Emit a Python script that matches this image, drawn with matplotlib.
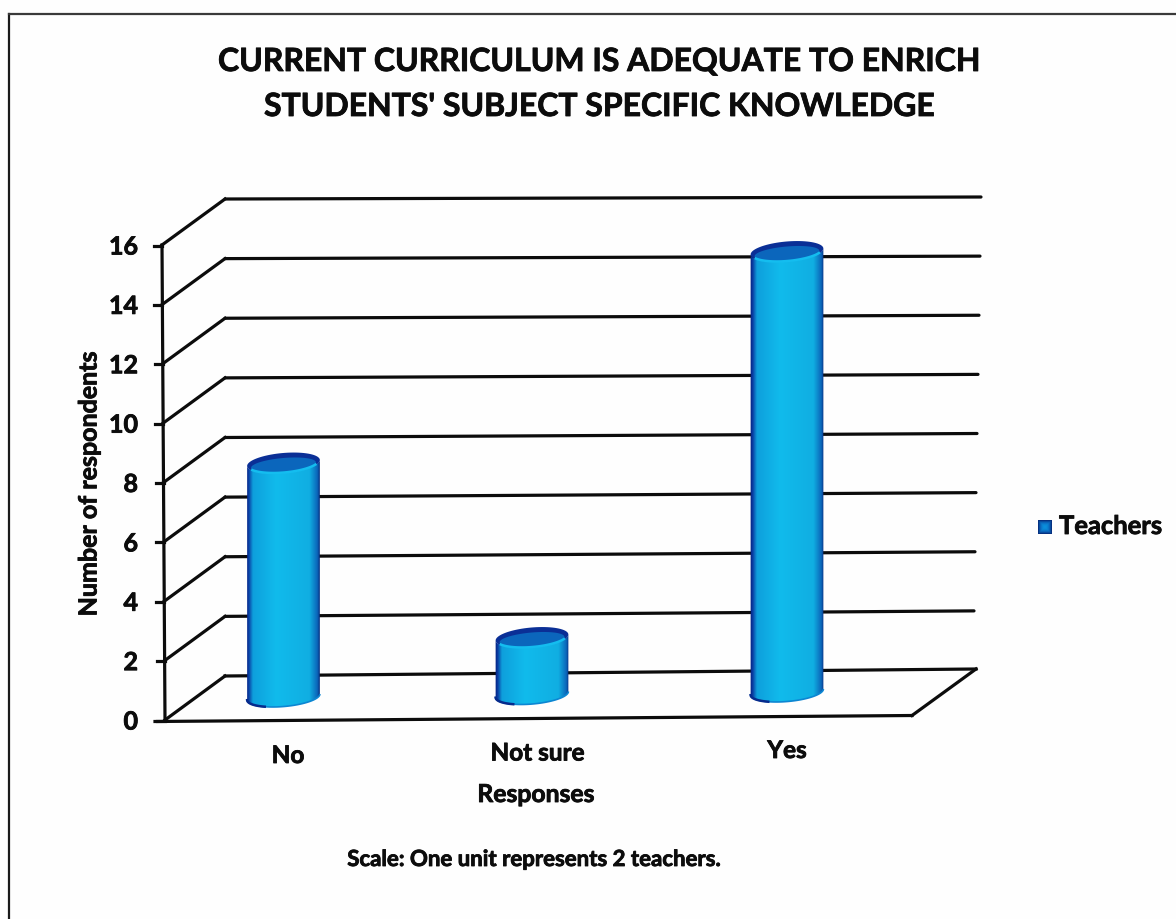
"""3D style cylinder chart, drawn on one axes that uses the picture's pixels as units."""
import matplotlib
matplotlib.use("Agg")
import matplotlib.patheffects as pe
import matplotlib.pyplot as plt
import numpy as np
from matplotlib.colors import LinearSegmentedColormap
from matplotlib.patches import PathPatch, Polygon
from matplotlib.path import Path

plt.rcParams["font.family"] = ["Lato", "DejaVu Sans"]
plt.rcParams["font.weight"] = "bold"

title_lines = ["CURRENT CURRICULUM IS ADEQUATE TO ENRICH", "STUDENTS' SUBJECT SPECIFIC KNOWLEDGE"]
categories = ["No", "Not sure", "Yes"]
teachers = [8, 2, 15]
y_ticks = [0, 2, 4, 6, 8, 10, 12, 14, 16]
series_name = "Teachers"
x_title = "Responses"
y_title = "Number of respondents"
note = "Scale: One unit represents 2 teachers."

W, H = 1176, 919
YMAX = 16
INK = "#0c0c0c"
LW = 2.3
HEAVY = [pe.withStroke(linewidth=0.6, foreground=INK)]
body_cmap = LinearSegmentedColormap.from_list(
    "body",
    [(0, "#041f80"), (0.035, "#0a3fa4"), (0.09, "#0e9fdc"), (0.4, "#11bbec"),
     (0.85, "#10aee2"), (0.955, "#0b66ba"), (1, "#041c6c")],
)
swatch_cmap = LinearSegmentedColormap.from_list("swatch", ["#0a8fdc", "#0b62b8", "#06307f"])


def label(ax, x, y, s, size, **kw):
    kw.setdefault("ha", "center")
    ax.text(x, y, s, va="center", fontsize=size, color=INK, path_effects=HEAVY, **kw)


def front_axis(v):
    t = v / YMAX
    return 165 - 3 * t, 720 - 475 * t


def back_wall(u, v):
    # u runs 0..1 along the wall, the wall is a little out of square
    t = v / YMAX
    left = np.array([225, 676 - 477 * t])
    right = np.array([973 + 8 * t, 670 - 473 * t])
    return left + (right - left) * u


def bar_base(i):
    # spacing widens a touch to the right (perspective)
    return 283.5 + 248.5 * i + 3.25 * i * (i - 1), 697 - 2.5 * i


def ellipse_pts(cx, cy, a, b, t0, t1, n=80, tilt=np.radians(-5)):
    t = np.linspace(t0, t1, n)
    x = cx + a * np.cos(t) * np.cos(tilt) - b * np.sin(t) * np.sin(tilt)
    y = cy + a * np.cos(t) * np.sin(tilt) + b * np.sin(t) * np.cos(tilt)
    return np.column_stack([x, y])


def draw_cylinder(ax, i, value):
    a, b = 36.5, 9.5
    cx, cy0 = bar_base(i)
    cy1 = cy0 - 29.5 * value + 2

    # body: gradient clipped to the outline
    lower = ellipse_pts(cx, cy0, a, b, 0, np.pi)
    upper = ellipse_pts(cx, cy1, a, b, np.pi, 0)
    outline = np.vstack([lower, upper, lower[:1]])
    clip = PathPatch(Path(outline), transform=ax.transData, fc="none", ec="none")
    ax.add_patch(clip)
    grad = np.linspace(0, 1, 128).reshape(1, -1)
    im = ax.imshow(grad, cmap=body_cmap, aspect="auto", zorder=3,
                   extent=[cx - a - 1, cx + a + 1, cy0 + 20, cy1 - 20])
    im.set_clip_path(clip)

    # bottom rim
    ax.plot(*ellipse_pts(cx, cy0, a, b, 0.1, np.pi).T, color="#0c86d2", lw=1.2, zorder=4)
    ax.plot(*ellipse_pts(cx, cy0, a, b, np.pi * 0.68, np.pi).T, color="#062a8c", lw=1.8, zorder=4)

    # top face
    rim = Polygon(ellipse_pts(cx, cy1, a, b + 0.5, 0, 2 * np.pi), fc="#0a2f96", ec="none", zorder=5)
    ax.add_patch(rim)
    inner = Polygon(ellipse_pts(cx, cy1 + 2, a - 4, b - 2.5, 0, 2 * np.pi), fc="#0b66bc", ec="none", zorder=6)
    ax.add_patch(inner)
    ax.plot(*ellipse_pts(cx, cy1, a - 1, b, np.pi * 0.15, np.pi * 0.85).T, color="#14bdef", lw=1.8, zorder=7)


fig = plt.figure(figsize=(W / 100, H / 100), dpi=100, facecolor="#fefefe")
ax = fig.add_axes([0, 0, 1, 1])

# page frame
ax.plot([9, 9], [H, 14], color="#1a1a1a", lw=1.6, zorder=1)
ax.plot([9, W], [14, 14], color="#3a3a3a", lw=1.6, zorder=1)

# back wall lines, left side diagonals and ticks
for v in y_ticks:
    bx, by = back_wall(0, v)
    ex, ey = back_wall(1, v)
    fx, fy = front_axis(v)
    if v > 0:
        ax.plot([bx, ex], [by, ey], color=INK, lw=LW, zorder=2, solid_capstyle="round")
    else:
        ax.plot([bx, ex + 3], [by, ey - 1], color=INK, lw=LW, zorder=2)
    ax.plot([fx, bx], [fy, by], color=INK, lw=LW, zorder=2)
    ax.plot([fx - 8, fx], [fy + 0.5, fy + 0.5], color=INK, lw=LW, zorder=2)
    label(ax, 138, fy + 2, str(v), 18, ha="right")

# left axis, floor front edge, floor right edge
ax.plot([front_axis(0)[0], front_axis(YMAX)[0]], [front_axis(0)[1], front_axis(YMAX)[1]], color=INK, lw=LW, zorder=2)
ax.plot([155, 912], [721.5, 715.5], color=INK, lw=LW, zorder=2)
ax.plot([912, 976], [715.5, 669], color=INK, lw=LW, zorder=2)

for i, value in enumerate(teachers):
    draw_cylinder(ax, i, value)

# category labels sit a little higher going right
for i, name in enumerate(categories):
    label(ax, 288 + 249.5 * i, 755.5 - 2.5 * i, name, 17.5)

for k, line in enumerate(title_lines):
    label(ax, 600, 61.5 + 45 * k, line, 23)

label(ax, 89, 484, y_title, 18, rotation=90)
label(ax, 536, 794.5, x_title, 17.8)
label(ax, 535, 859.5, note, 16)

# legend
xx, yy = np.meshgrid(np.linspace(-1, 1, 16), np.linspace(-1, 1, 16))
ax.imshow(np.maximum(abs(xx), abs(yy)) ** 2, cmap=swatch_cmap, aspect="auto",
          extent=[1038, 1052, 534, 520], zorder=3)
label(ax, 1059, 526, series_name, 18.4, ha="left")

ax.set_xlim(0, W)
ax.set_ylim(H, 0)
ax.axis("off")
fig.savefig("out.png", dpi=100, facecolor=fig.get_facecolor())
